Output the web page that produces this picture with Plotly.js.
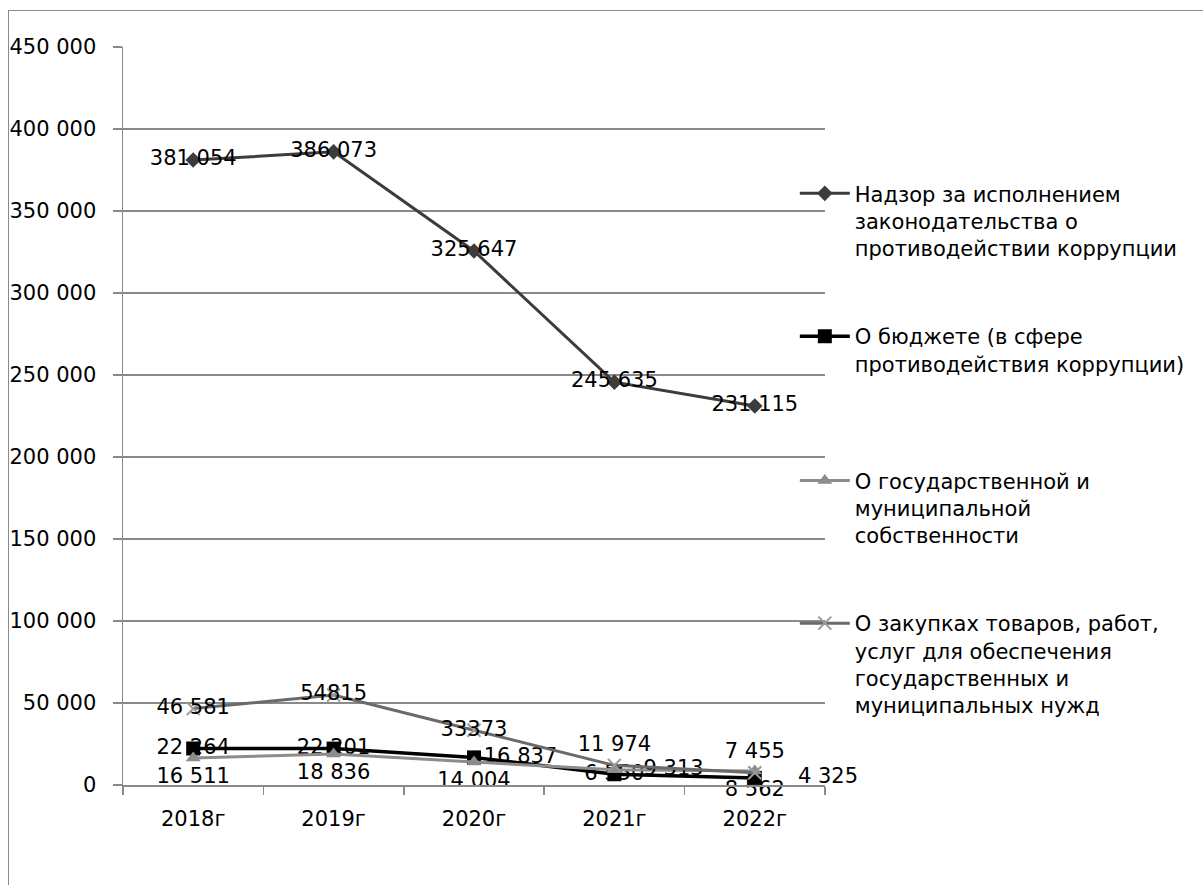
<!DOCTYPE html>
<html>
<head>
<meta charset="utf-8">
<script src="https://cdn.plot.ly/plotly-3.0.1.min.js"></script>
<style>
html,body{margin:0;padding:0;background:#fff;overflow:hidden;}
#frame{position:absolute;left:8px;top:10px;width:1400px;height:1000px;border:1.5px solid #8a8a8a;}
#chart{position:absolute;left:0;top:0;width:1203px;height:885px;}
</style>
</head>
<body>
<div id="frame"></div>
<div id="chart"></div>
<script>
const years = ["2018г","2019г","2020г","2021г","2022г"];
const nadzor = [381054, 386073, 325647, 245635, 231115];
const budget = [22264, 22201, 16837, 6550, 4325];
const property = [16511, 18836, 14004, 9313, 8562];
const zakupki = [46581, 54815, 33373, 11974, 7455];

const nadzorLabels = ["381 054","386 073","325 647","245 635","231 115"];
const budgetLabels = ["22 264","22 201","16 837","6 550","\u00a0\u00a0\u00a0\u00a0\u00a04 325"];
const propertyLabels = ["16 511","18 836","14 004","\u00a0\u00a0\u00a09 313","8 562"];
const zakupkiLabels = ["46 581","54815","33373","11 974","7 455"];

const names = [
  "Надзор за исполнением<br>законодательства о<br>противодействии коррупции",
  "О бюджете (в сфере<br>противодействия коррупции)",
  "О государственной и<br>муниципальной<br>собственности",
  "О закупках товаров, работ,<br>услуг для обеспечения<br>государственных и<br>муниципальных нужд"
];

const FONT = "DejaVu Sans, Liberation Sans, sans-serif";
const FS = 21;
const tf = {family: FONT, size: FS, color: "#000"};

const traces = [
  {x: years, y: nadzor, text: nadzorLabels, name: names[0], type: "scatter", mode: "lines+markers+text",
   line: {color: "#3c3c3c", width: 3}, marker: {symbol: "diamond", size: 12, color: "#3c3c3c"},
   textposition: "middle center", textfont: tf, legend: "legend", cliponaxis: false},
  {x: years, y: budget, text: budgetLabels, name: names[1], type: "scatter", mode: "lines+markers+text",
   line: {color: "#000", width: 3.5}, marker: {symbol: "square", size: 14, color: "#000"},
   textposition: ["middle center","middle center","middle right","middle center","middle right"], textfont: tf, legend: "legend2", cliponaxis: false},
  {x: years, y: property, text: propertyLabels, name: names[2], type: "scatter", mode: "lines+markers+text",
   line: {color: "#8c8c8c", width: 3}, marker: {symbol: "triangle-up", size: 13, color: "#8c8c8c"},
   textposition: ["bottom center","bottom center","bottom center","middle right","bottom center"], textfont: tf, legend: "legend3", cliponaxis: false},
  {x: years, y: zakupki, text: zakupkiLabels, name: names[3], type: "scatter", mode: "lines+markers+text",
   line: {color: "#6a6a6a", width: 3}, marker: {symbol: "x-thin", size: 13, color: "#9a9a9a", line: {color: "#9a9a9a", width: 2}},
   textposition: ["middle center","middle center","middle center","top center","top center"], textfont: tf, legend: "legend4", cliponaxis: false}
];

const lg = (y) => ({x: 0.957, xanchor: "left", y: y, yanchor: "top", valign: "top",
  font: {family: FONT, size: FS, color: "#000"}, bgcolor: "rgba(0,0,0,0)", borderwidth: 0, itemwidth: 50});

const layout = {
  width: 1203, height: 885,
  margin: {l: 123, r: 378, t: 47, b: 100},
  paper_bgcolor: "rgba(0,0,0,0)", plot_bgcolor: "rgba(0,0,0,0)",
  separators: ", ",
  showlegend: true,
  legend: lg(0.829), legend2: lg(0.6355), legend3: lg(0.44), legend4: lg(0.2466),
  xaxis: {type: "category", range: [-0.5, 4.5], tickson: "boundaries", ticks: "outside", ticklen: 8, tickcolor: "#8a8a8a", tickwidth: 1.5,
    showline: true, linecolor: "#8a8a8a", linewidth: 1.5, showgrid: false, zeroline: false,
    tickfont: {family: FONT, size: FS, color: "#000"}, ticklabelstandoff: 14},
  yaxis: {range: [0, 450000], dtick: 50000, tickformat: ",d", ticks: "outside", ticklen: 9, tickcolor: "#8a8a8a", tickwidth: 1.5,
    showline: true, linecolor: "#8a8a8a", linewidth: 1.5, showgrid: true, gridcolor: "#8a8a8a", gridwidth: 1.5, zeroline: false,
    tickfont: {family: FONT, size: FS, color: "#000"}, ticklabelstandoff: 12},
  font: {family: FONT}
};

Plotly.newPlot("chart", traces, layout, {displayModeBar: false, staticPlot: true});
</script>
</body>
</html>
